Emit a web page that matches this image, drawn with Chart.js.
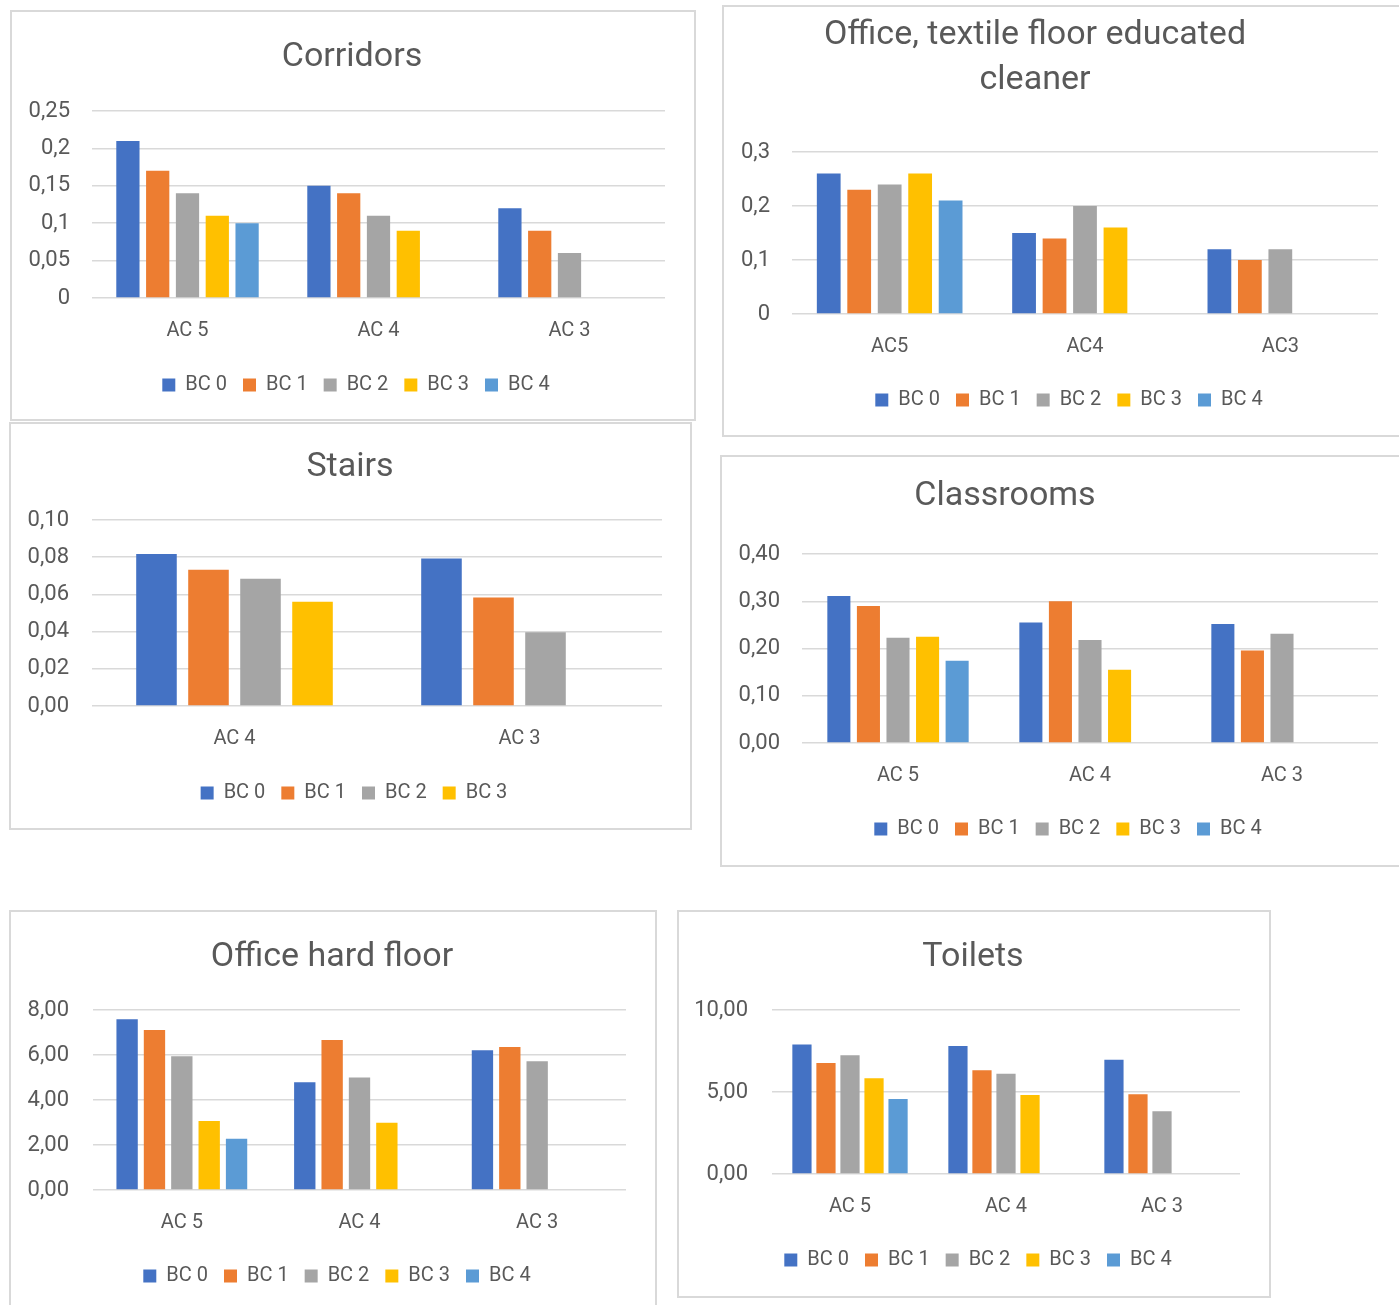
<!DOCTYPE html>
<html lang="en">
<head>
<meta charset="UTF-8">
<title>Cleaning results by area</title>
<script src="https://cdn.jsdelivr.net/npm/chart.js"></script>
<style>
  body { margin: 0; background: #fff; width: 1399px; height: 1305px; position: relative; overflow: hidden; font-family: Roboto, sans-serif; }
  .panel { position: absolute; box-sizing: border-box; border: 2px solid #d9d9d9; background: #fff; }
  .panel canvas { display: block; }
</style>
</head>
<body>
<script>
// ---- data ----
const seriesNames = ['BC 0', 'BC 1', 'BC 2', 'BC 3', 'BC 4'];
const seriesColors = ['#4472C4', '#ED7D31', '#A5A5A5', '#FFC000', '#5B9BD5'];

const corridorsCats = ['AC 5', 'AC 4', 'AC 3'];
const corridorsBC0 = [0.21, 0.15, 0.12];
const corridorsBC1 = [0.17, 0.14, 0.09];
const corridorsBC2 = [0.14, 0.11, 0.06];
const corridorsBC3 = [0.11, 0.09, null];
const corridorsBC4 = [0.10, null, null];
const corridorsTicks = ['0', '0,05', '0,1', '0,15', '0,2', '0,25'];

const textileCats = ['AC5', 'AC4', 'AC3'];
const textileBC0 = [0.26, 0.15, 0.12];
const textileBC1 = [0.23, 0.14, 0.10];
const textileBC2 = [0.24, 0.20, 0.12];
const textileBC3 = [0.26, 0.16, null];
const textileBC4 = [0.21, null, null];
const textileTicks = ['0', '0,1', '0,2', '0,3'];

const stairsCats = ['AC 4', 'AC 3'];
const stairsBC0 = [0.0817, 0.0793];
const stairsBC1 = [0.0733, 0.0583];
const stairsBC2 = [0.0684, 0.0396];
const stairsBC3 = [0.0561, null];
const stairsTicks = ['0,00', '0,02', '0,04', '0,06', '0,08', '0,10'];

const classCats = ['AC 5', 'AC 4', 'AC 3'];
const classBC0 = [0.311, 0.255, 0.252];
const classBC1 = [0.290, 0.300, 0.196];
const classBC2 = [0.223, 0.218, 0.231];
const classBC3 = [0.225, 0.155, null];
const classBC4 = [0.174, null, null];
const classTicks = ['0,00', '0,10', '0,20', '0,30', '0,40'];

const hardCats = ['AC 5', 'AC 4', 'AC 3'];
const hardBC0 = [7.59, 4.79, 6.21];
const hardBC1 = [7.11, 6.67, 6.36];
const hardBC2 = [5.94, 5.00, 5.72];
const hardBC3 = [3.07, 2.99, null];
const hardBC4 = [2.28, null, null];
const hardTicks = ['0,00', '2,00', '4,00', '6,00', '8,00'];

const toiletCats = ['AC 5', 'AC 4', 'AC 3'];
const toiletBC0 = [7.89, 7.81, 6.97];
const toiletBC1 = [6.77, 6.33, 4.87];
const toiletBC2 = [7.24, 6.12, 3.83];
const toiletBC3 = [5.84, 4.81, null];
const toiletBC4 = [4.58, null, null];
const toiletTicks = ['0,00', '5,00', '10,00'];

// ---- drawing ----
const TEXT = '#595959';
const GRID = '#d9d9d9';
const B = 2;          // panel border
const TITLE_FS = 34;
const TICK_FS = 22;
const CAT_FS = 20;
const LEG_FS = 20;
const LEG_PAD = 16;

// moves the title / legend boxes sideways so they sit where the original ones do
const shiftBoxes = {
  id: 'shiftBoxes',
  afterLayout(chart, args, opts) {
    const t = chart.titleBlock, l = chart.legend;
    if (t && opts.title) { t.left += opts.title; t.right += opts.title; }
    if (l && opts.legend) { l.left += opts.legend; l.right += opts.legend; }
  }
};

function drawPanel(box, area, title, cats, series, yTicks, yMax, yStep, catPct, barPct) {
  const div = document.createElement('div');
  div.className = 'panel';
  div.style.left = box.left + 'px';
  div.style.top = box.top + 'px';
  div.style.width = box.width + 'px';
  div.style.height = box.height + 'px';
  const canvas = document.createElement('canvas');
  const cw = box.width - 2 * B, ch = box.height - 2 * B;
  canvas.width = cw; canvas.height = ch;
  canvas.style.width = cw + 'px'; canvas.style.height = ch + 'px';
  div.appendChild(canvas);
  document.body.appendChild(div);

  const ox = box.left + B, oy = box.top + B;
  // small vertical nudges found by comparing with the original
  const top = area.top + 2, bottom = area.bottom + 1;
  const titleY = area.titleY + 2, catY = area.catY + 2, legendY = area.legendY + 2;

  const lines = Array.isArray(title) ? title.length : 1;
  const lh = area.titleLine || TITLE_FS * 1.2;
  const t1 = titleY - oy - lh / 2;
  const t2 = (top - oy) - t1 - lines * lh;
  const xPad = catY - bottom - CAT_FS * 0.6;
  const xH = legendY - bottom - LEG_PAD - LEG_FS / 2;
  const legH = LEG_FS + LEG_PAD + 10;
  const pb = ch - (bottom - oy + xH + legH);
  const yW = area.left - ox;
  const rW = ox + cw - area.right;
  const mid = ox + cw / 2;

  const datasets = series.map((data, i) => ({
    label: seriesNames[i],
    data: data,
    backgroundColor: seriesColors[i],
    borderWidth: 0,
    categoryPercentage: catPct,
    barPercentage: barPct || 0.78
  }));

  new Chart(canvas, {
    type: 'bar',
    data: { labels: cats, datasets: datasets },
    plugins: [shiftBoxes],
    options: {
      responsive: false,
      animation: false,
      layout: { padding: { top: 0, left: 0, right: 0, bottom: pb } },
      plugins: {
        shiftBoxes: { title: area.titleX - mid, legend: area.legendX - mid },
        title: {
          display: true,
          text: title,
          color: TEXT,
          font: { family: 'Roboto', size: TITLE_FS, weight: 'normal', lineHeight: lh / TITLE_FS },
          padding: { top: t1, bottom: t2 }
        },
        legend: {
          position: 'bottom',
          labels: {
            color: TEXT,
            font: { family: 'Roboto', size: LEG_FS },
            boxWidth: 13,
            boxHeight: 13,
            padding: LEG_PAD
          }
        },
        tooltip: { enabled: false }
      },
      scales: {
        x: {
          grid: { display: false, drawTicks: false },
          border: { display: false },
          ticks: { color: TEXT, font: { family: 'Roboto', size: CAT_FS }, padding: xPad, maxRotation: 0 },
          afterFit: s => { s.height = xH; }
        },
        y: {
          min: 0,
          max: yMax,
          grid: { color: GRID, lineWidth: 1.5, drawTicks: false },
          border: { display: false },
          ticks: {
            stepSize: yStep,
            color: TEXT,
            font: { family: 'Roboto', size: TICK_FS },
            padding: area.left - area.labelRight,
            callback: (v, i) => yTicks[i]
          },
          afterFit: s => { s.width = yW; }
        },
        spare: {
          type: 'linear',
          position: 'right',
          display: true,
          grid: { display: false },
          border: { display: false },
          ticks: { display: false },
          afterFit: s => { s.width = rW; }
        }
      }
    }
  });
}

drawPanel({ left: 10, top: 10, width: 686, height: 411 },
  { left: 92, right: 665, top: 109, bottom: 297, titleY: 55, titleX: 352, labelRight: 70, catY: 329, legendY: 383, legendX: 356 },
  'Corridors', corridorsCats,
  [corridorsBC0, corridorsBC1, corridorsBC2, corridorsBC3, corridorsBC4],
  corridorsTicks, 0.25, 0.05, 0.78);

drawPanel({ left: 722, top: 5, width: 680, height: 432 },
  { left: 792, right: 1378, top: 150, bottom: 313, titleY: 33, titleX: 1035, titleLine: 45, labelRight: 770, catY: 345, legendY: 398, legendX: 1069 },
  ['Office, textile floor educated', 'cleaner'], textileCats,
  [textileBC0, textileBC1, textileBC2, textileBC3, textileBC4],
  textileTicks, 0.3, 0.1, 0.78);

drawPanel({ left: 9, top: 422, width: 683, height: 408 },
  { left: 92, right: 662, top: 518, bottom: 705, titleY: 465, titleX: 350, labelRight: 69, catY: 737, legendY: 791, legendX: 354 },
  'Stairs', stairsCats,
  [stairsBC0, stairsBC1, stairsBC2, stairsBC3],
  stairsTicks, 0.10, 0.02, 0.73);

drawPanel({ left: 720, top: 455, width: 682, height: 412 },
  { left: 802, right: 1378, top: 552, bottom: 742, titleY: 494, titleX: 1005, labelRight: 780, catY: 774, legendY: 827, legendX: 1068 },
  'Classrooms', classCats,
  [classBC0, classBC1, classBC2, classBC3, classBC4],
  classTicks, 0.40, 0.10, 0.77);

drawPanel({ left: 9, top: 910, width: 648, height: 402 },
  { left: 93, right: 626, top: 1008, bottom: 1189, titleY: 955, titleX: 332, labelRight: 69, catY: 1221, legendY: 1274, legendX: 337 },
  'Office hard floor', hardCats,
  [hardBC0, hardBC1, hardBC2, hardBC3, hardBC4],
  hardTicks, 8, 2, 0.77);

drawPanel({ left: 677, top: 910, width: 594, height: 388 },
  { left: 772, right: 1240, top: 1008, bottom: 1173, titleY: 955, titleX: 973, labelRight: 748, catY: 1205, legendY: 1258, legendX: 978 },
  'Toilets', toiletCats,
  [toiletBC0, toiletBC1, toiletBC2, toiletBC3, toiletBC4],
  toiletTicks, 10, 5, 0.77, 0.8);
</script>
</body>
</html>
